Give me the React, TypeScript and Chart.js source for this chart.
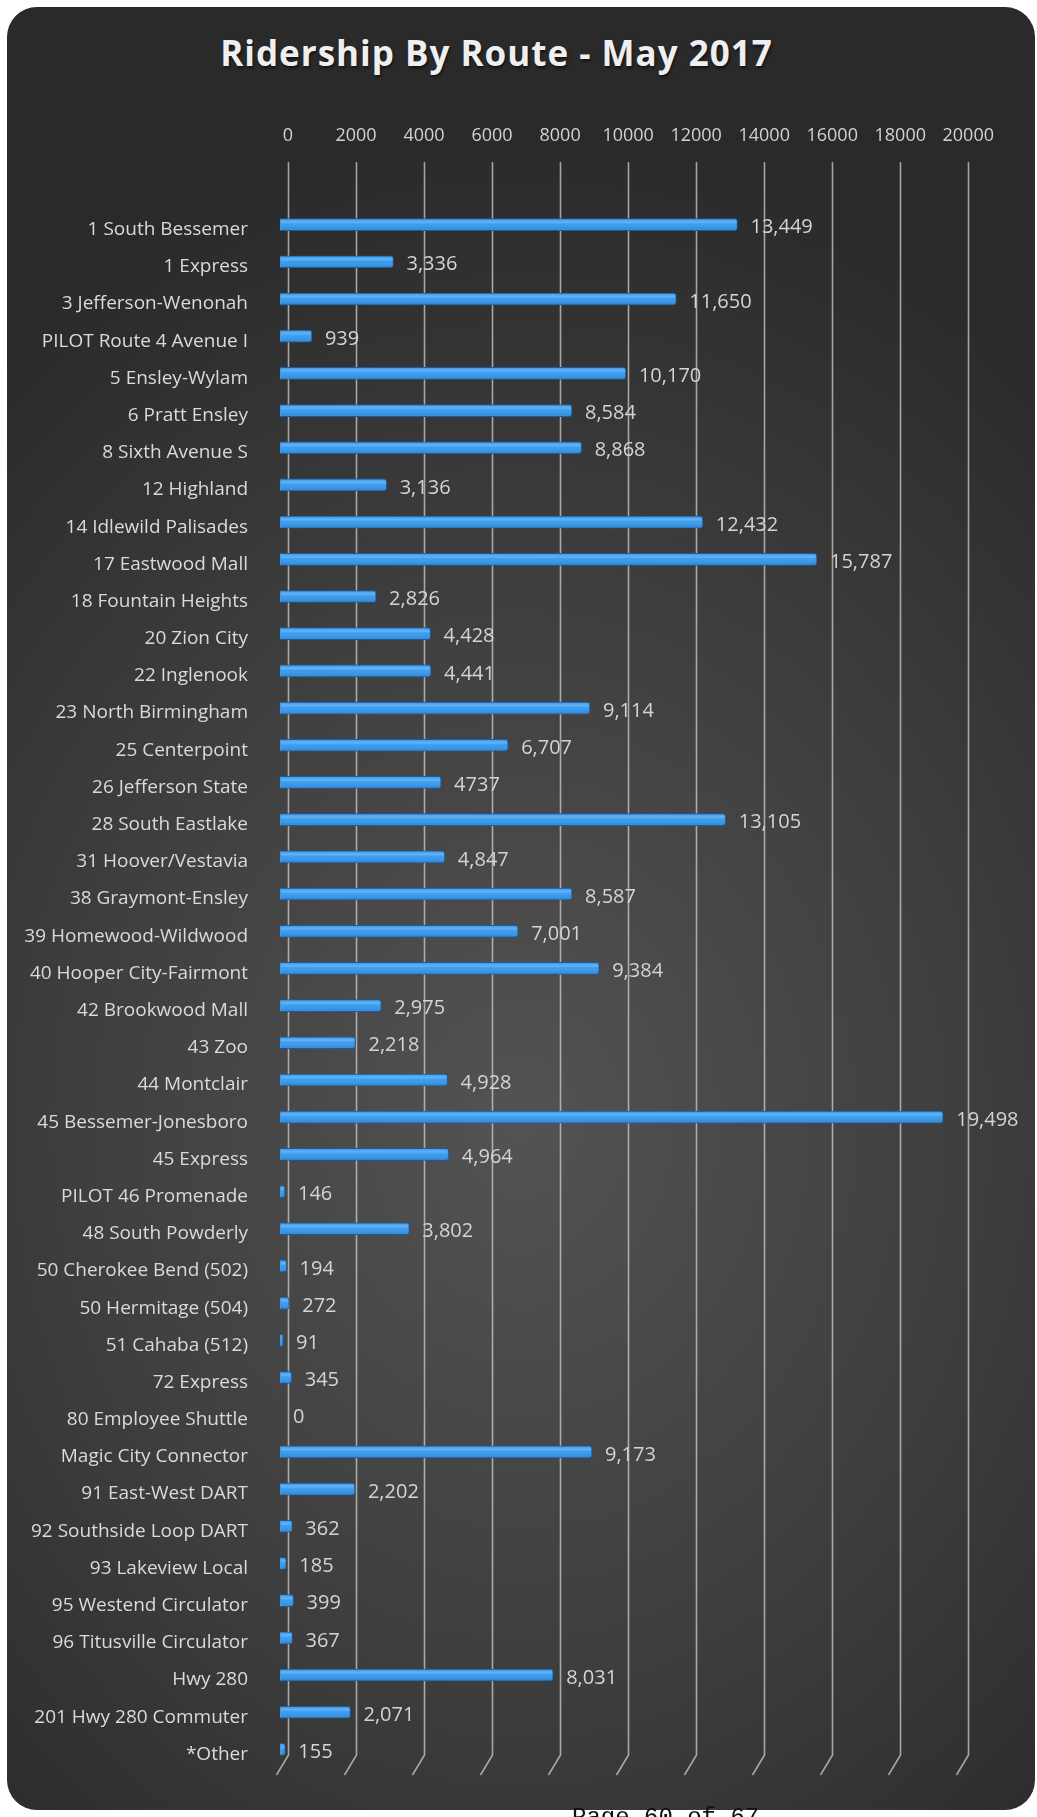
import React, { useEffect, useRef } from 'react';
import { Chart, registerables } from 'chart.js';

Chart.register(...registerables);

const routes = [
  '1 South Bessemer', '1 Express', '3 Jefferson-Wenonah', 'PILOT Route 4 Avenue I', '5 Ensley-Wylam',
  '6 Pratt Ensley', '8 Sixth Avenue S', '12 Highland', '14 Idlewild Palisades', '17 Eastwood Mall',
  '18 Fountain Heights', '20 Zion City', '22 Inglenook', '23 North Birmingham', '25 Centerpoint',
  '26 Jefferson State', '28 South Eastlake', '31 Hoover/Vestavia', '38 Graymont-Ensley', '39 Homewood-Wildwood',
  '40 Hooper City-Fairmont', '42 Brookwood Mall', '43 Zoo', '44 Montclair', '45 Bessemer-Jonesboro',
  '45 Express', 'PILOT 46 Promenade', '48 South Powderly', '50 Cherokee Bend (502)', '50 Hermitage (504)',
  '51 Cahaba (512)', '72 Express', '80 Employee Shuttle', 'Magic City Connector', '91 East-West DART',
  '92 Southside Loop DART', '93 Lakeview Local', '95 Westend Circulator', '96 Titusville Circulator', 'Hwy 280',
  '201 Hwy 280 Commuter', '*Other',
];

const riders = [
  13449, 3336, 11650, 939, 10170,
  8584, 8868, 3136, 12432, 15787,
  2826, 4428, 4441, 9114, 6707,
  4737, 13105, 4847, 8587, 7001,
  9384, 2975, 2218, 4928, 19498,
  4964, 146, 3802, 194, 272,
  91, 345, 0, 9173, 2202,
  362, 185, 399, 367, 8031,
  2071, 155,
];

const riderLabels = [
  '13,449', '3,336', '11,650', '939', '10,170',
  '8,584', '8,868', '3,136', '12,432', '15,787',
  '2,826', '4,428', '4,441', '9,114', '6,707',
  '4737', '13,105', '4,847', '8,587', '7,001',
  '9,384', '2,975', '2,218', '4,928', '19,498',
  '4,964', '146', '3,802', '194', '272',
  '91', '345', '0', '9,173', '2,202',
  '362', '185', '399', '367', '8,031',
  '2,071', '155',
];

const axisMin = 0;
const axisMax = 20000;
const axisStep = 2000;

const TITLE = 'Ridership By Route - May 2017';
const FONT = "'Open Sans', 'Liberation Sans', sans-serif";

const DEPTH = 8; // 3D depth offset of the back wall gridlines

const depthGrid = {
  id: 'depthGrid',
  beforeDatasetsDraw(chart: any) {
    const { ctx, chartArea, scales } = chart;
    const xs = scales.x;
    ctx.save();
    ctx.strokeStyle = 'rgba(205,205,205,0.75)';
    ctx.lineWidth = 1.6;
    const bend = chartArea.bottom - 13;
    const end = chartArea.bottom + 7;
    xs.ticks.forEach((t: any) => {
      const px = Math.round(xs.getPixelForValue(t.value)) + DEPTH + 0.5;
      ctx.beginPath();
      ctx.moveTo(px, 162);
      ctx.lineTo(px, bend);
      ctx.lineTo(px - 12, end);
      ctx.stroke();
    });
    ctx.restore();
  },
};

const barGloss = {
  id: 'barGloss',
  afterDatasetsDraw(chart: any) {
    const { ctx } = chart;
    const meta = chart.getDatasetMeta(0);
    ctx.save();
    meta.data.forEach((bar: any) => {
      const { x, y, base, height } = bar.getProps(['x', 'y', 'base', 'height'], true);
      const w = x - base;
      if (w <= 1) return;
      const top = y - height / 2;
      const g = ctx.createLinearGradient(0, top, 0, top + height);
      g.addColorStop(0, 'rgba(120,195,255,0.0)');
      g.addColorStop(0.3, 'rgba(150,210,255,0.45)');
      g.addColorStop(0.55, 'rgba(60,150,235,0.0)');
      g.addColorStop(1, 'rgba(20,70,130,0.35)');
      ctx.fillStyle = g;
      ctx.fillRect(base + 1, top + 1, Math.max(w - 2, 0), height - 2);
    });
    ctx.restore();
  },
};

const valueLabels = {
  id: 'valueLabels',
  afterDatasetsDraw(chart: any) {
    const { ctx } = chart;
    const meta = chart.getDatasetMeta(0);
    ctx.save();
    ctx.font = `20px ${FONT}`;
    ctx.fillStyle = '#d4d4d4';
    ctx.textAlign = 'left';
    ctx.textBaseline = 'middle';
    meta.data.forEach((bar: any, i: number) => {
      ctx.fillText(riderLabels[i], bar.x + 13, bar.y + 3);
    });
    ctx.restore();
  },
};

export default function App() {
  const canvasRef = useRef<HTMLCanvasElement | null>(null);

  useEffect(() => {
    if (!canvasRef.current) return;
    const chart = new Chart(canvasRef.current, {
      type: 'bar',
      data: {
        labels: routes,
        datasets: [
          {
            data: riders,
            backgroundColor: '#3d9cec',
            borderColor: '#1d5c9a',
            borderWidth: 1,
            borderRadius: 3,
            barThickness: 12,
          },
        ],
      },
      options: {
        indexAxis: 'y',
        responsive: false,
        animation: false,
        devicePixelRatio: 1,
        layout: { padding: { left: 0, right: 70, top: 0, bottom: 49 } },
        plugins: {
          legend: { display: false },
          title: { display: false },
          tooltip: { enabled: false },
        },
        scales: {
          x: {
            position: 'top',
            min: axisMin,
            max: axisMax,
            grid: { display: false },
            border: { display: false },
            ticks: {
              stepSize: axisStep,
              color: '#d2d2d2',
              font: { family: FONT, size: 18 },
              padding: 51,
              labelOffset: DEPTH,
              maxRotation: 0,
              autoSkip: false,
              callback: (v: any) => String(v),
            },
            afterFit: (s: any) => { s.height = 206; },
          },
          y: {
            grid: { display: false },
            border: { display: false },
            ticks: {
              color: '#dadada',
              font: { family: FONT, size: 19 },
              padding: 24,
              labelOffset: 5,
              autoSkip: false,
            },
            afterFit: (s: any) => { s.width = 280; },
          },
        },
      },
      plugins: [depthGrid, barGloss, valueLabels],
    });
    return () => chart.destroy();
  }, []);

  return (
    <div style={{ position: 'absolute', left: 0, top: 0, width: 1037, height: 1817, overflow: 'hidden', background: '#ffffff' }}>
      <div
        style={{
          position: 'absolute', left: 7, top: 7, width: 1028, height: 1803, borderRadius: 30,
          background: 'radial-gradient(ellipse 80% 55% at 50% 62%, #535353 0%, #3e3e3e 55%, #2a2a2a 100%)',
        }}
      />
      <div
        style={{
          position: 'absolute', left: 0, top: 31, width: 993, textAlign: 'center', lineHeight: '44px',
          fontFamily: FONT, fontWeight: 700, fontSize: 35, letterSpacing: 1, color: '#efefef',
          textShadow: '1px 2px 3px rgba(0,0,0,0.6)',
        }}
      >
        {TITLE}
      </div>
      <canvas ref={canvasRef} width={1037} height={1817} style={{ position: 'absolute', left: 0, top: 0 }} />
      <div
        style={{
          position: 'absolute', left: 572, top: 1804, fontFamily: "'Liberation Mono', 'DejaVu Sans Mono', monospace",
          fontSize: 24, color: '#111', whiteSpace: 'pre',
        }}
      >
        Page 60 of 67
      </div>
    </div>
  );
}
